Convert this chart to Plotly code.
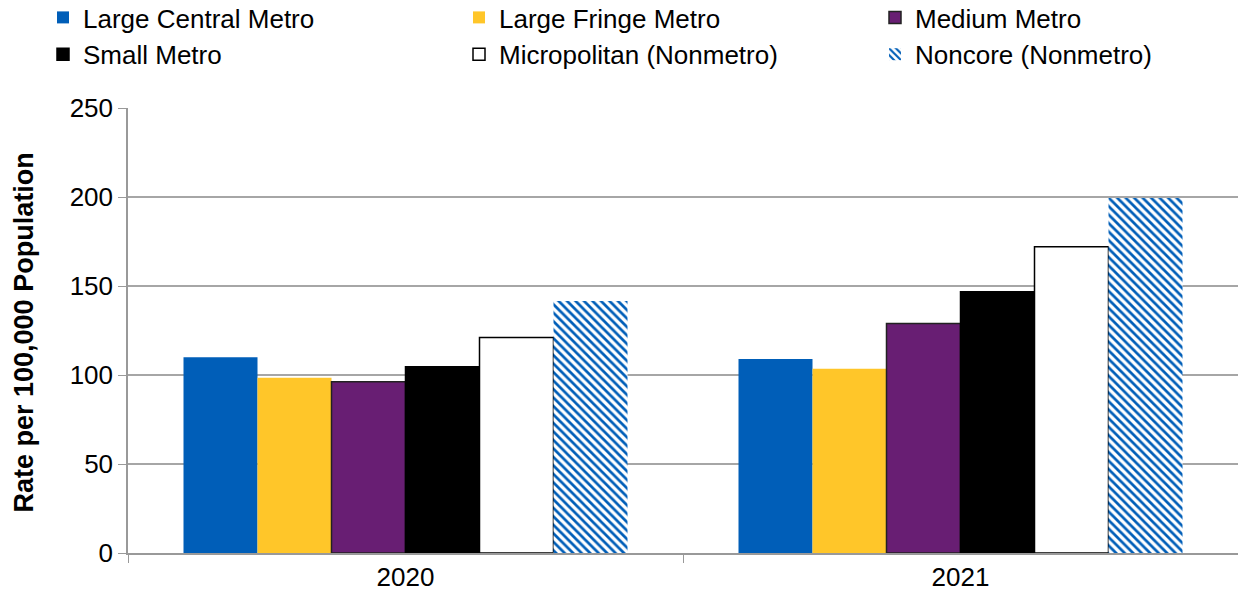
import plotly.graph_objects as go

years = ["2020", "2021"]
series_names = ["Large Central Metro", "Large Fringe Metro", "Medium Metro",
                "Small Metro", "Micropolitan (Nonmetro)", "Noncore (Nonmetro)"]
large_central = [110, 109]
large_fringe = [98.5, 103.5]
medium_metro = [96.2, 129]
small_metro = [104.7, 146.8]
micropolitan = [121, 172]
noncore = [141.6, 199.5]
y_ticks = [0, 50, 100, 150, 200, 250]
y_title = "Rate per 100,000 Population"

values = [large_central, large_fringe, medium_metro, small_metro, micropolitan, noncore]
fills = ["#005EB8", "#FFC629", "#681E73", "#000000", "#FFFFFF", "#FFFFFF"]
lines = ["#005EB8", "#FFC629", "#222222", "#000000", "#000000", "#FFFFFF"]
line_w = [0, 0, 1.5, 1.5, 1.5, 0]
legend_ids = ["legend", "legend2", "legend3", "legend", "legend2", "legend3"]

W, H = 1238, 598
L, T, B = 128, 108, 45
PW, PH = W - L, H - T - B

fig = go.Figure()
for i, (name, vals) in enumerate(zip(series_names, values)):
    marker = dict(color=fills[i], line=dict(color=lines[i], width=line_w[i]))
    if i == 5:
        marker["pattern"] = dict(shape="\\", fgcolor="#005EB8", bgcolor="#FFFFFF",
                                 size=6, solidity=0.45, fgopacity=1)
    fig.add_trace(go.Bar(name=name, x=years, y=vals, marker=marker,
                         legend=legend_ids[i], legendgroup=name))

def leg(xpx):
    return dict(orientation="v", xref="paper", yref="paper",
                x=(xpx - L) / PW, y=1 + (T + 6) / PH, xanchor="left", yanchor="top",
                font=dict(size=26), traceorder="normal", itemwidth=30,
                tracegroupgap=4, bgcolor="rgba(0,0,0,0)")

fig.add_annotation(text="<b>" + y_title + "</b>", xref="paper", yref="paper",
                   x=-105 / PW, y=0.5 - 2 / PH, xanchor="center", yanchor="middle",
                   textangle=-90, showarrow=False, font=dict(size=27))

fig.update_layout(
    width=W, height=H,
    barmode="group", bargap=0.2, bargroupgap=0,
    paper_bgcolor="white", plot_bgcolor="white",
    margin=dict(l=L, r=0, t=T, b=B, autoexpand=False),
    font=dict(family="Liberation Sans, Arial, sans-serif", size=26, color="#000000"),
    legend=leg(43), legend2=leg(459), legend3=leg(875),
    xaxis=dict(type="category", showline=True, linecolor="#999999", linewidth=1.5,
               ticks="outside", tickson="boundaries", ticklen=8, tickcolor="#999999",
               tickfont=dict(size=26), showgrid=False),
    yaxis=dict(range=[0, 250], tickvals=y_ticks, showline=True, linecolor="#999999",
               linewidth=1.5, ticks="outside", ticklen=8, tickcolor="#999999",
               showgrid=True, gridcolor="#A6A6A6", gridwidth=1.5,
               tickfont=dict(size=26), zeroline=False),
)

fig.write_html("out.html", config={"displayModeBar": False},
               post_script="document.body.style.margin='0';document.body.style.overflow='hidden';")
